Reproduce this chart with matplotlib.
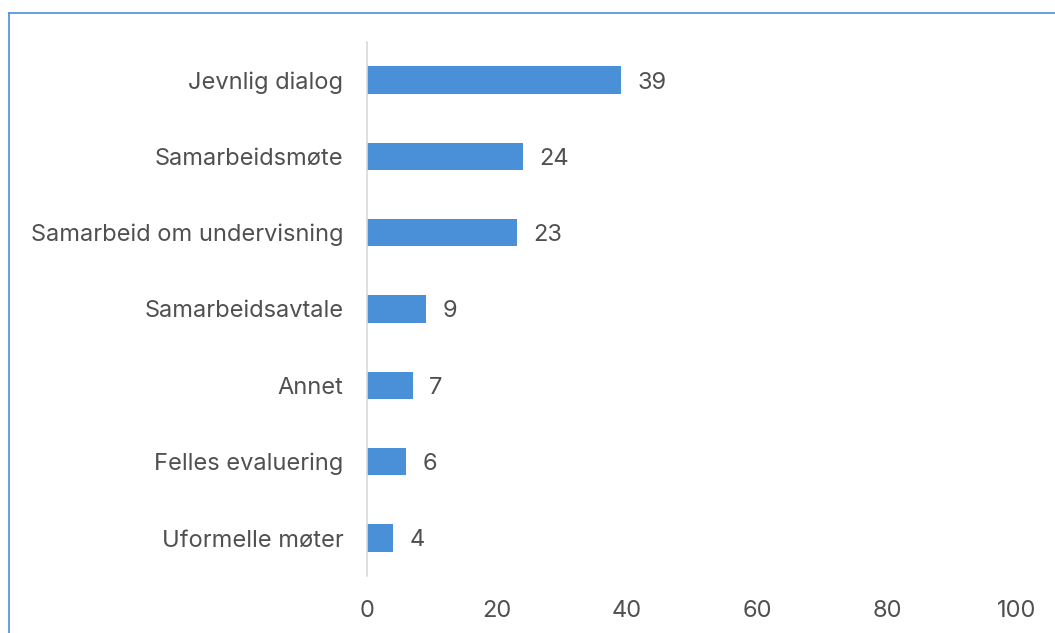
import matplotlib
matplotlib.use('Agg')
import matplotlib.pyplot as plt
from matplotlib.lines import Line2D

categories = ['Jevnlig dialog', 'Samarbeidsmøte', 'Samarbeid om undervisning',
              'Samarbeidsavtale', 'Annet', 'Felles evaluering', 'Uformelle møter']
values = [39, 24, 23, 9, 7, 6, 4]
xticks = [0, 20, 40, 60, 80, 100]

plt.rcParams['font.family'] = ['Inter', 'DejaVu Sans']
grey = '#505050'

fig = plt.figure(figsize=(10.55, 6.33), dpi=100)
ax = fig.add_axes([367 / 1055, 1 - 576 / 633, 650 / 1055, 534 / 633])

ypos = list(range(len(categories)))
ax.barh(ypos, values, height=0.36, color='#4a90d9')
for y, v in zip(ypos, values):
    ax.annotate(str(v), (v, y), xytext=(12, 0), textcoords='offset points',
                va='center_baseline', ha='left', fontsize=17, color=grey)

ax.set_xlim(0, 100)
ax.set_ylim(len(categories) - 0.5, -0.5)
ax.set_xticks(xticks)
ax.set_yticks(ypos)
ax.set_yticklabels(categories)
ax.tick_params(axis='both', length=0, labelsize=17, labelcolor=grey)
ax.tick_params(axis='x', pad=17)
ax.tick_params(axis='y', pad=17)
for s in ['top', 'right', 'bottom']:
    ax.spines[s].set_visible(False)
ax.spines['left'].set_color('#d9d9d9')
ax.spines['left'].set_linewidth(1.2)

# chart frame (partially visible)
fig.add_artist(Line2D([9 / 1055, 9 / 1055], [0, 1 - 12.5 / 633], color='#4a90e2', lw=1.2,
                      transform=fig.transFigure))
fig.add_artist(Line2D([9 / 1055, 1], [1 - 12.5 / 633, 1 - 12.5 / 633], color='#4a90e2', lw=1.2,
                      transform=fig.transFigure))

fig.savefig('out.png', dpi=100)
